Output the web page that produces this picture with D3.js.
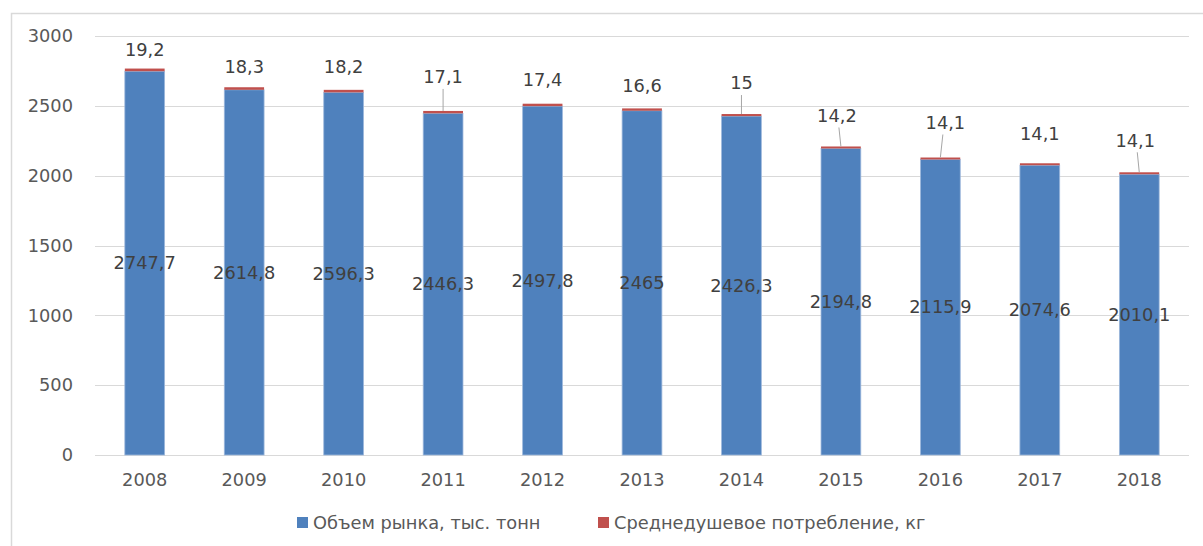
<!DOCTYPE html>
<html>
<head>
<meta charset="utf-8">
<script src="https://cdn.jsdelivr.net/npm/d3@7"></script>
<style>
  html, body { margin: 0; padding: 0; background: #fff; }
  svg { display: block; }
  text { font-family: "DejaVu Sans", sans-serif; }
</style>
</head>
<body>
<svg id="chart" width="1203" height="546"></svg>
<script>
// ---- data ----
const years = ["2008","2009","2010","2011","2012","2013","2014","2015","2016","2017","2018"];
const marketVolume = [2747.7, 2614.8, 2596.3, 2446.3, 2497.8, 2465, 2426.3, 2194.8, 2115.9, 2074.6, 2010.1];
const perCapita = [19.2, 18.3, 18.2, 17.1, 17.4, 16.6, 15, 14.2, 14.1, 14.1, 14.1];
const yTicks = [0, 500, 1000, 1500, 2000, 2500, 3000];
const seriesNames = ["Объем рынка, тыс. тонн", "Среднедушевое потребление, кг"];

// ---- layout for the moved labels of the red series (pixels) ----
const redLabelDx = [0, 0, 0, 0, 0, 0, 0, -4, 5, 0, -4];
const redLabelLift = [19, 20, 23, 34, 24, 23, 31, 31, 35, 30, 32];
const redLeader = [false, false, false, true, false, false, true, true, true, false, true];

const colors = ["#4F81BD", "#C0504D"];
const FS = 17.8;
const svg = d3.select("#chart");

// chart border
svg.append("rect").attr("x", 11.5).attr("y", 13.5).attr("width", 1210).attr("height", 560)
  .attr("fill", "none").attr("stroke", "#d9d9d9").attr("stroke-width", 1.5);

const x = d3.scaleBand().domain(years).range([95, 1189]).paddingInner(0.6).paddingOuter(0.3);
const y = d3.scaleLinear().domain([0, 3000]).range([455, 36]);

// gridlines
svg.append("g").selectAll("line").data(yTicks).join("line")
  .attr("x1", 95).attr("x2", 1189)
  .attr("y1", d => Math.round(y(d)) + 0.5).attr("y2", d => Math.round(y(d)) + 0.5)
  .attr("stroke", "#d9d9d9").attr("stroke-width", 1.2);

// y axis labels
const yAxis = d3.axisLeft(y).tickValues(yTicks).tickSize(0).tickPadding(0).tickFormat(d3.format("d"));
const gy = svg.append("g").attr("transform", "translate(73,0)").call(yAxis);
gy.select(".domain").remove();
gy.selectAll("text").attr("font-size", FS).attr("fill", "#595959").attr("font-family", "DejaVu Sans");

// x axis labels
const xAxis = d3.axisBottom(x).tickSize(0).tickPadding(0);
const gx = svg.append("g").attr("transform", "translate(0,473)").call(xAxis);
gx.select(".domain").remove();
gx.selectAll("text").attr("font-size", FS).attr("fill", "#595959").attr("font-family", "DejaVu Sans");

// stacked bars
const rows = years.map((yr, i) => ({ year: yr, a: marketVolume[i], b: perCapita[i], i }));
svg.append("g").selectAll("rect").data(rows).join("rect")
  .attr("x", d => x(d.year)).attr("width", x.bandwidth())
  .attr("y", d => y(d.a)).attr("height", d => y(0) - y(d.a))
  .attr("fill", colors[0]).attr("stroke", "#9db8dc").attr("stroke-width", 0.8);
svg.append("g").selectAll("rect").data(rows).join("rect")
  .attr("x", d => x(d.year)).attr("width", x.bandwidth())
  .attr("y", d => y(d.a + d.b)).attr("height", d => y(d.a) - y(d.a + d.b))
  .attr("fill", colors[1]);

// labels of blue series (centered in segment)
svg.append("g").selectAll("text").data(rows).join("text")
  .attr("x", d => x(d.year) + x.bandwidth() / 2)
  .attr("y", d => y(d.a / 2))
  .attr("dy", "0.35em").attr("text-anchor", "middle")
  .attr("font-size", FS).attr("fill", "#404040")
  .text(d => String(d.a).replace(".", ","));

// leader lines for red labels
svg.append("g").selectAll("line").data(rows.filter(d => redLeader[d.i])).join("line")
  .attr("x1", d => x(d.year) + x.bandwidth() / 2 + redLabelDx[d.i] * 0.5)
  .attr("y1", d => y(d.a + d.b) - redLabelLift[d.i] + 12)
  .attr("x2", d => x(d.year) + x.bandwidth() / 2)
  .attr("y2", d => y(d.a + d.b))
  .attr("stroke", "#a6a6a6").attr("stroke-width", 1);

// red labels
svg.append("g").selectAll("text").data(rows).join("text")
  .attr("x", d => x(d.year) + x.bandwidth() / 2 + redLabelDx[d.i])
  .attr("y", d => y(d.a + d.b) - redLabelLift[d.i])
  .attr("dy", "0.35em").attr("text-anchor", "middle")
  .attr("font-size", FS).attr("fill", "#404040")
  .text(d => String(d.b).replace(".", ","));

// legend
const legend = svg.append("g");
const legendX = [297, 598];
seriesNames.forEach((name, i) => {
  legend.append("rect").attr("x", legendX[i]).attr("y", 517).attr("width", 11).attr("height", 11).attr("fill", colors[i]);
  legend.append("text").attr("x", legendX[i] + 16).attr("y", 523).attr("dy", "0.35em")
    .attr("font-size", FS).attr("fill", "#595959").text(name);
});
</script>
</body>
</html>
